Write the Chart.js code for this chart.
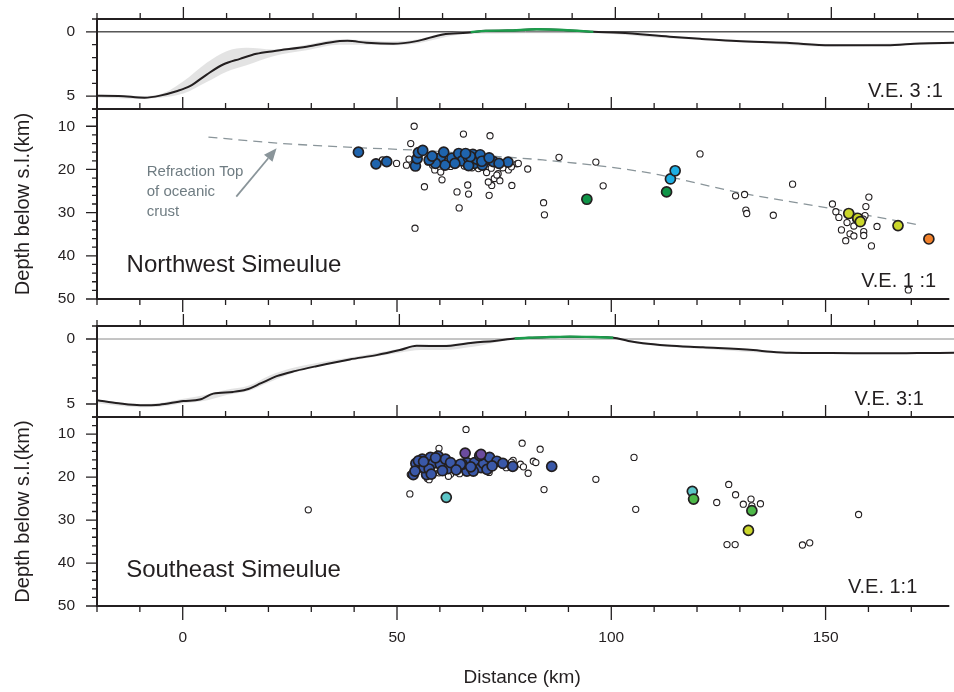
<!DOCTYPE html>
<html>
<head>
<meta charset="utf-8">
<script src="https://cdn.jsdelivr.net/npm/chart.js@4.4.1/dist/chart.umd.min.js"></script>
<style>
  html, body { margin: 0; padding: 0; background: #fff; overflow: hidden; }
  #wrap { position: relative; width: 954px; height: 692px; }
  #wrap canvas { position: absolute; left: 0; }
</style>
</head>
<body>
<div id="wrap">
  <canvas id="p1"></canvas>
  <canvas id="p2"></canvas>
  <canvas id="p3"></canvas>
  <canvas id="p4"></canvas>
</div>
<script>
const INK = '#231f20'
const FONT = '"Liberation Sans", Arial, Helvetica, sans-serif'
const X_MIN = -20, X_MAX = 178.4

// distance ticks (km)
const xMinorTicks = [-20, -10, 0, 10, 20, 30, 40, 50, 60, 70, 80, 90, 100, 110, 120, 130, 140, 150, 160, 170]
const xLabelTicks = [0, 50, 100, 150]

// Northwest bathymetry profile (distance km, depth km)
const nwProfileX = [-20, -15, -9, -5.4, -1.6, 1.5, 5.4, 9.2, 13.1, 16.9, 20.8, 28.5, 36.2, 38, 42.4, 48.6, 54, 60.1, 65.6, 70, 75, 81.8, 88, 94.9, 101, 112.6, 120, 128, 139.6, 149.7, 162.8, 170.5, 178.4]
const nwProfileD = [4.97, 4.98, 5.12, 4.96, 4.62, 4.23, 3.32, 2.54, 2.1, 1.71, 1.5, 1.16, 0.72, 0.7, 0.85, 0.93, 0.72, 0.2, 0.07, -0.08, -0.1, -0.2, -0.15, 0.0, 0.07, 0.38, 0.55, 0.72, 0.85, 1.05, 1.05, 0.9, 0.85]
const nwLandX = [66.5, 70, 75, 81.8, 88, 94.9]
const nwLandD = [0.02, -0.08, -0.1, -0.2, -0.15, 0.0]
const nwBandX = [-20, -10, -5.4, 0, 5.4, 10, 14.6, 20.8, 28.5, 36.2, 42, 48, 54, 60, 66, 95, 110, 130, 150, 178.4]
const nwBandTop = [4.9, 4.98, 4.85, 3.84, 2.4, 1.5, 1.24, 1.37, 1.0, 0.6, 0.65, 0.75, 0.6, 0.1, -0.05, -0.05, 0.3, 0.65, 0.95, 0.8]
const nwBandBot = [5.1, 5.2, 5.12, 4.8, 3.9, 3.1, 2.6, 1.89, 1.43, 1.0, 1.0, 1.05, 0.9, 0.45, 0.15, 0.1, 0.45, 0.8, 1.15, 0.95]

// Southeast bathymetry profile
const seProfileX = [-20, -15, -10, -5.5, 0, 3.8, 6.9, 11.5, 14.6, 18, 21.6, 26, 30.8, 38.5, 44.7, 50.1, 54, 60.1, 67, 72, 76.7, 80, 85, 89.5, 95, 99.5, 103, 106.4, 112, 120.3, 131.9, 136, 140.4, 150, 162.8, 170, 178.4]
const seProfileD = [4.71, 4.95, 5.1, 5.05, 4.77, 4.66, 4.2, 4.07, 3.89, 3.4, 2.86, 2.45, 2.09, 1.57, 1.24, 0.85, 0.52, 0.54, 0.28, 0.15, -0.03, -0.1, -0.15, -0.18, -0.15, -0.1, 0.15, 0.33, 0.5, 0.64, 0.85, 0.98, 1.06, 1.08, 1.1, 1.08, 1.06]
const seLandX = [76.7, 80, 85, 89.5, 95, 99.5]
const seLandD = [-0.03, -0.1, -0.15, -0.18, -0.15, -0.1]
const seBandX = [-20, -10, -5, 0, 5, 10, 15, 20, 25, 30, 40, 50, 55, 60, 67, 77, 100, 106, 120, 140, 178.4]
const seBandTop = [4.7, 5.0, 4.9, 4.6, 4.3, 3.9, 3.6, 2.8, 2.25, 1.9, 1.35, 0.75, 0.45, 0.45, 0.2, -0.05, -0.1, 0.25, 0.6, 1.0, 1.0]
const seBandBot = [4.95, 5.25, 5.2, 4.95, 4.75, 4.3, 4.0, 3.3, 2.65, 2.2, 1.6, 1.05, 0.85, 0.85, 0.6, 0.05, 0.0, 0.4, 0.75, 1.12, 1.12]

// top of oceanic crust from refraction
const refrX = [6, 22, 40, 61, 71, 84, 100, 111, 130, 151, 172]
const refrD = [12.5, 13.9, 14.9, 15.9, 16.8, 17.8, 19.5, 21.2, 25.4, 29.0, 32.9]

// Northwest hypocentres [distance, depth]
const nwOpen = [[54, 10], [65.5, 11.8], [71.7, 12.2], [53.2, 14], [49.9, 18.6], [52.2, 19], [46.6, 17.8], [56.4, 24], [60.5, 22.4], [64, 25.2], [66.5, 23.6], [66.7, 25.7], [64.5, 28.9], [54.2, 33.6], [71.5, 26], [72.1, 23.7], [72.7, 22.1], [74, 22.6], [73.6, 21], [71.3, 22.9], [76.8, 23.7], [76, 20.1], [78, 18.7], [80.5, 19.9], [84.2, 27.7], [84.4, 30.5], [58.3, 19], [58.8, 20.1], [60.2, 20.6], [70.9, 20.7], [72, 19.7], [73.9, 18.6], [65.7, 19.2], [73.3, 21.3], [74.7, 19.6], [76.7, 19.4], [78.3, 18.6], [67.5, 19.6], [62.5, 19.3], [69, 19.8], [57.2, 18.3], [52.8, 17.6],
  [87.8, 17.2], [96.4, 18.3], [98.1, 23.8], [120.7, 16.4], [142.3, 23.4], [129, 26.1], [131.1, 25.8], [131.4, 29.4], [131.6, 30.2], [137.8, 30.6],
  [151.6, 28], [152.4, 29.8], [153.1, 31.1], [160.1, 26.4], [159.4, 28.6], [155, 32.3], [156.6, 33.1], [159.2, 30.7], [158.8, 31.5], [162, 33.2], [153.7, 34], [155.7, 34.9], [156.6, 35.4], [154.7, 36.5], [158.9, 34.4], [158.9, 35.3], [160.7, 37.7], [157, 31.5], [169.3, 47.9]]
const nwBlue = [[41, 16], [45.1, 18.7], [47.6, 18.2], [54.3, 19.2], [54.7, 17.5], [55, 16.1], [56, 15.6], [59.4, 18], [60.1, 17.3], [60.9, 16], [61.2, 19], [62.8, 17.4], [64.4, 16.3], [65.2, 18], [66.7, 17.4], [67.7, 16.5], [68.1, 18.6], [68.6, 17.6], [69.4, 16.6], [70.6, 18], [72.5, 18.2], [75.9, 18.3], [66.7, 19.1], [69.9, 19], [59, 18.6], [67.1, 17], [69.8, 18.1],
  [57.5, 17.8], [63.5, 18.6], [71.5, 17.3], [73.8, 18.6], [58.2, 16.9], [66, 16.3]]
const nwCyan = [[113.8, 22.2], [114.9, 20.3]]
const nwGreen = [[94.3, 26.9], [112.9, 25.2]]
const nwYellow = [[155.4, 30.2], [157.5, 31.3], [158.1, 32.1], [166.9, 33]]
const nwOrange = [[174.1, 36.1]]

// Southeast hypocentres
const seOpen = [[66.1, 8.9], [59.8, 13.3], [79.2, 12.1], [83.4, 13.5], [53, 23.9], [29.3, 27.6], [84.3, 22.9], [80.6, 19.1], [71.5, 18.9], [105.3, 15.4], [96.4, 20.5], [105.7, 27.5], [127.4, 21.7], [129, 24.1], [124.6, 25.9], [130.8, 26.3], [132.6, 25.1], [132.8, 26.7], [134.8, 26.2], [157.7, 28.7], [127, 35.7], [128.9, 35.7], [144.6, 35.8], [146.3, 35.3], [81.8, 16.3], [82.4, 16.6], [78.8, 17], [77.1, 16.1], [74.7, 17.2], [76.7, 16.5], [53.1, 19.4], [57.1, 20.3], [62.5, 19.3], [64.6, 19.2], [59.8, 19], [57.5, 20.6], [75.5, 17.8], [79.5, 17.6], [62, 19.8]]
const seBlue = [[53.8, 19.4], [54.7, 17.9], [54.4, 16.8], [55.9, 15.8], [56.9, 19.4], [56.3, 17.8], [57.8, 15.4], [58.4, 16.8], [59.6, 15.1], [60.1, 17], [61.3, 15.8], [61.9, 18], [57.5, 18.1], [66.3, 16.6], [66.3, 18.6], [65.2, 17], [68.1, 16.6], [69.6, 17.8], [70.2, 16.8], [71.6, 15.4], [67.8, 18.6], [69.3, 15], [73.3, 16.3], [77, 17.5], [86.1, 17.5], [64.8, 17], [59, 15.5], [55, 16.2],
  [54.2, 18.6], [56.2, 16.4], [58, 19.3], [60.6, 18.5], [62.5, 16.6], [63.8, 18.3], [67.2, 17.6], [71, 18.2], [72.2, 17.4], [74.7, 16.8]]
const sePurple = [[65.9, 14.4], [69.6, 14.7]]
const seTeal = [[61.5, 24.7], [118.9, 23.3]]
const seGreen = [[119.2, 25.1], [132.8, 27.8]]
const seYellow = [[132, 32.4]]

const pts = (xs, ys) => xs.map((x, i) => ({ x, y: ys[i] }))
const pairs = arr => arr.map(([x, y]) => ({ x, y }))

function lineSet(data, color, width, extra) {
  return Object.assign({
    data, borderColor: color, borderWidth: width, backgroundColor: color,
    showLine: true, fill: false, pointRadius: 0, cubicInterpolationMode: 'monotone'
  }, extra)
}

function quakeSet(data, color, big) {
  return {
    data, showLine: false, borderColor: INK, backgroundColor: color,
    pointRadius: big ? 5 : 3.1,
    pointBorderWidth: big ? 1.7 : 1.1,
    pointBackgroundColor: color,
    pointBorderColor: INK
  }
}

function profileSets(px, pd, lx, ld, bx, bt, bb) {
  // first dataset is drawn on top
  return [
    lineSet(pts(lx, ld), '#1c9d4c', 2.4),
    lineSet(pts(px, pd), INK, 2),
    lineSet(pts(bx, bt), 'rgba(0,0,0,0)', 0, { fill: '+1', backgroundColor: 'rgba(200,200,200,0.5)' }),
    lineSet(pts(bx, bb), 'rgba(0,0,0,0)', 0)
  ]
}

// frame, outward ticks, sea level and notes
const frameTicks = {
  id: 'frameTicks',
  beforeDatasetsDraw(chart, args, o) {
    const { ctx, chartArea: a, scales: { x, y } } = chart
    ctx.save()
    if (o.seaLevel) {
      const py = y.getPixelForValue(0)
      ctx.strokeStyle = o.seaLevel
      ctx.lineWidth = 1
      ctx.beginPath(); ctx.moveTo(a.left, py); ctx.lineTo(a.right, py); ctx.stroke()
    }
    (o.notes || []).forEach(n => {
      ctx.font = `${n.size}px ${FONT}`
      ctx.fillStyle = n.color || INK
      ctx.textAlign = n.align || 'left'
      ctx.textBaseline = n.baseline || 'alphabetic'
      ctx.fillText(n.text, x.getPixelForValue(n.x), y.getPixelForValue(n.y))
    })
    if (o.arrow) {
      const ar = o.arrow
      const x0 = x.getPixelForValue(ar.x0), y0 = y.getPixelForValue(ar.y0)
      const x1 = x.getPixelForValue(ar.x1), y1 = y.getPixelForValue(ar.y1)
      const ang = Math.atan2(y1 - y0, x1 - x0)
      const hl = 13, hw = 5.5
      const bx = x1 - hl * Math.cos(ang), by = y1 - hl * Math.sin(ang)
      ctx.strokeStyle = ar.color
      ctx.fillStyle = ar.color
      ctx.lineWidth = 1.8
      ctx.beginPath(); ctx.moveTo(x0, y0); ctx.lineTo(bx, by); ctx.stroke()
      ctx.beginPath()
      ctx.moveTo(x1, y1)
      ctx.lineTo(bx + hw * Math.sin(ang), by - hw * Math.cos(ang))
      ctx.lineTo(bx - hw * Math.sin(ang), by + hw * Math.cos(ang))
      ctx.closePath(); ctx.fill()
    }
    ctx.restore()
  },
  afterDraw(chart, args, o) {
    const { ctx, chartArea: a, scales: { x, y } } = chart
    ctx.save()
    ctx.strokeStyle = INK
    ctx.lineWidth = 2
    ctx.beginPath()
    ctx.moveTo(a.right + 2, a.top); ctx.lineTo(a.left, a.top)
    ctx.lineTo(a.left, a.bottom); ctx.lineTo(a.right + 2, a.bottom)
    ctx.stroke()

    ctx.lineWidth = 1.3
    ctx.beginPath()
    xMinorTicks.forEach(v => {
      const px = x.getPixelForValue(v)
      const major = v % 50 === 0
      if (o.tickTop) { ctx.moveTo(px, a.top); ctx.lineTo(px, a.top - (major ? 12 : 6)) }
      if (o.tickBottom) { ctx.moveTo(px, a.bottom); ctx.lineTo(px, a.bottom + (major ? o.bottomMajor : 6)) }
    })
    for (let v = o.yMin; v <= o.yMax + 1e-9; v += o.yStep) {
      const py = y.getPixelForValue(v)
      const major = o.yMajor.includes(v)
      ctx.moveTo(a.left, py); ctx.lineTo(a.left - (major ? 11 : 5), py)
    }
    ctx.stroke()
    ctx.restore()
  }
}

// keep the plot area exactly where the layout padding puts it
function noLabelPadding(s) {
  s.paddingTop = 0; s.paddingBottom = 0; s.paddingLeft = 0; s.paddingRight = 0
}

function makePanel(p) {
  const cv = document.getElementById(p.id)
  const h = p.padTop + p.height + p.padBottom + (p.xAxisHeight || 0)
  cv.width = 954; cv.height = h
  cv.style.width = '954px'; cv.style.height = h + 'px'
  cv.style.top = (p.top - p.padTop) + 'px'
  const tickFont = { family: FONT, size: 15.5 }
  return new Chart(cv, {
    type: 'line',
    data: { datasets: p.datasets },
    options: {
      responsive: false, animation: false, devicePixelRatio: 1, events: [],
      layout: { padding: { top: p.padTop, bottom: p.padBottom, left: 0, right: 0 } },
      scales: {
        x: {
          type: 'linear', min: X_MIN, max: X_MAX, position: 'bottom', display: !!p.xAxisHeight,
          grid: { display: false, drawTicks: false }, border: { display: false },
          afterBuildTicks: s => { s.ticks = xLabelTicks.map(v => ({ value: v })) },
          afterFit: s => { s.height = p.xAxisHeight || 0; noLabelPadding(s) },
          ticks: { padding: 22, color: INK, font: tickFont, maxRotation: 0, autoSkip: false },
          title: { display: !!p.xAxisHeight, text: 'Distance (km)', color: INK, font: { family: FONT, size: 19 }, padding: { top: 0, bottom: 2.6 } }
        },
        y: {
          type: 'linear', min: p.yMin, max: p.yMax, reverse: true,
          grid: { display: false, drawTicks: false }, border: { display: false },
          afterBuildTicks: s => { s.ticks = p.yMajor.map(v => ({ value: v })) },
          afterFit: s => { s.width = 97; noLabelPadding(s) },
          ticks: { padding: 22, color: INK, font: tickFont, autoSkip: false },
          title: { display: !!p.yTitle, text: p.yTitle || '', color: INK, font: { family: FONT, size: 20 }, padding: { top: 11.5, bottom: 0 } }
        }
      },
      plugins: {
        legend: { display: false },
        tooltip: { enabled: false },
        frameTicks: {
          yMin: p.yMin, yMax: p.yMax, yStep: p.yStep, yMajor: p.yMajor,
          tickTop: true, tickBottom: p.tickBottom, bottomMajor: p.bottomMajor || 13,
          seaLevel: p.seaLevel, notes: p.notes, arrow: p.arrow
        }
      }
    },
    plugins: [frameTicks]
  })
}

const GREY_TXT = '#6f7c82'

makePanel({
  id: 'p1', top: 19, height: 90, padTop: 16, padBottom: 14,
  yMin: -1, yMax: 6, yStep: 1, yMajor: [0, 5], seaLevel: '#000',
  datasets: profileSets(nwProfileX, nwProfileD, nwLandX, nwLandD, nwBandX, nwBandTop, nwBandBot),
  notes: [{ text: 'V.E. 3 :1', x: 175.8, y: 5.09, size: 20, align: 'right' }]
})

makePanel({
  id: 'p2', top: 109, height: 190, padTop: 16, padBottom: 16, tickBottom: true,
  yMin: 6, yMax: 50, yStep: 2, yMajor: [10, 20, 30, 40, 50], yTitle: 'Depth below s.l.(km)',
  datasets: [
    quakeSet(pairs(nwOrange), '#f0802a', true),
    quakeSet(pairs(nwYellow), '#cad62b', true),
    quakeSet(pairs(nwCyan), '#1daee3', true),
    quakeSet(pairs(nwGreen), '#0f9447', true),
    quakeSet(pairs(nwBlue), '#1f64ad', true),
    quakeSet(pairs(nwOpen), '#ffffff', false),
    lineSet(pts(refrX, refrD), '#8a959a', 1.3, { borderDash: [9, 6] })
  ],
  notes: [
    { text: 'Northwest Simeulue', x: -13.1, y: 43.7, size: 24 },
    { text: 'V.E. 1 :1', x: 175.8, y: 47.3, size: 20, align: 'right' },
    { text: 'Refraction Top', x: -8.4, y: 20.5, size: 15, color: GREY_TXT, baseline: 'middle' },
    { text: 'of oceanic', x: -8.4, y: 25.1, size: 15, color: GREY_TXT, baseline: 'middle' },
    { text: 'crust', x: -8.4, y: 29.8, size: 15, color: GREY_TXT, baseline: 'middle' }
  ],
  arrow: { x0: 12.5, y0: 26.3, x1: 21.9, y1: 15.1, color: '#8a959a' }
})

makePanel({
  id: 'p3', top: 326, height: 91, padTop: 16, padBottom: 14,
  yMin: -1, yMax: 6, yStep: 1, yMajor: [0, 5], seaLevel: '#8a8a8a',
  datasets: profileSets(seProfileX, seProfileD, seLandX, seLandD, seBandX, seBandTop, seBandBot),
  notes: [{ text: 'V.E. 3:1', x: 171.4, y: 5.08, size: 20, align: 'right' }]
})

makePanel({
  id: 'p4', top: 417, height: 189, padTop: 16, padBottom: 0, xAxisHeight: 86, tickBottom: true, bottomMajor: 14,
  yMin: 6, yMax: 50, yStep: 2, yMajor: [10, 20, 30, 40, 50], yTitle: 'Depth below s.l.(km)',
  datasets: [
    quakeSet(pairs(seYellow), '#cad62b', true),
    quakeSet(pairs(seGreen), '#4db848', true),
    quakeSet(pairs(seTeal), '#5cc6c8', true),
    quakeSet(pairs(sePurple), '#6b4b9e', true),
    quakeSet(pairs(seBlue), '#3a58a8', true),
    quakeSet(pairs(seOpen), '#ffffff', false)
  ],
  notes: [
    { text: 'Southeast Simeulue', x: -13.2, y: 43.2, size: 24 },
    { text: 'V.E. 1:1', x: 171.4, y: 47.05, size: 20, align: 'right' }
  ]
})
</script>
</body>
</html>
